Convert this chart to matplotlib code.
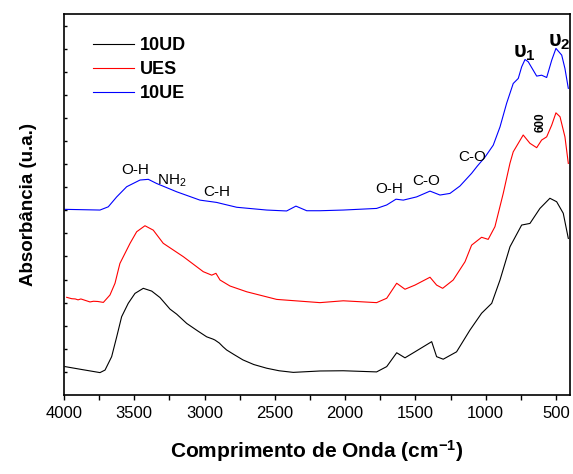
import matplotlib
matplotlib.use("Agg")
import matplotlib.pyplot as plt
from matplotlib.ticker import MultipleLocator, NullFormatter

plt.rcParams['font.family'] = ['Liberation Sans', 'DejaVu Sans']
plt.rcParams['mathtext.fontset'] = 'custom'
plt.rcParams['mathtext.rm'] = 'Liberation Sans'
plt.rcParams['mathtext.bf'] = 'Liberation Sans:bold'

# ---- data (wavenumber cm^-1, absorbance a.u. with offsets) ----
wn_10ud = [3993, 3870, 3744, 3708, 3661, 3625, 3590, 3543, 3495, 3436, 3376, 3317, 3246,
           3198, 3127, 3050, 2985, 2940, 2926, 2895, 2869, 2843, 2790, 2727, 2650, 2558,
           2470, 2369, 2179, 2013, 1776, 1704, 1633, 1574, 1503, 1384, 1349, 1302,
           1207, 1112, 1029, 957, 898, 827, 744, 685, 614, 543, 495, 448, 412]
abs_10ud = [1.23, 1.10, 0.97, 1.08, 1.66, 2.52, 3.39, 3.97, 4.40, 4.62, 4.50, 4.22, 3.72,
            3.50, 3.10, 2.78, 2.52, 2.42, 2.38, 2.25, 2.09, 1.95, 1.75, 1.52, 1.32, 1.16,
            1.05, 0.98, 1.04, 1.05, 1.00, 1.23, 1.83, 1.61, 1.87, 2.31, 1.66, 1.55,
            1.87, 2.81, 3.54, 3.97, 4.98, 6.42, 7.36, 7.43, 8.08, 8.52, 8.37, 7.87, 6.78]

wn_ues = [3981, 3945, 3920, 3900, 3880, 3850, 3815, 3790, 3760, 3720, 3673, 3637, 3614,
          3602, 3530, 3483, 3424, 3365, 3294, 3151, 3009,
          2949, 2919, 2890, 2819, 2700, 2487, 2179, 2013, 1776, 1704, 1633, 1574, 1503,
          1396, 1349, 1306, 1231, 1147, 1100, 1029, 982, 934, 875, 827, 804, 768, 733,
          685, 637, 602, 566, 530, 500, 471, 436, 412]
abs_ues = [4.23, 4.17, 4.16, 4.12, 4.16, 4.10, 4.03, 4.06, 4.05, 4.01, 4.33, 4.84, 5.41,
           5.70, 6.57, 7.07, 7.33, 7.14, 6.57, 5.99, 5.34,
           5.19, 5.27, 4.98, 4.72, 4.47, 4.14, 4.00, 4.08, 4.00, 4.19, 4.84, 4.58, 4.76,
           5.10, 4.76, 4.62, 4.98, 5.77, 6.49, 6.83, 6.74, 7.29, 8.73, 10.04, 10.53, 10.90,
           11.26, 10.90, 10.71, 11.04, 11.18, 11.69, 12.22, 12.05, 11.18, 10.03]

wn_10ue = [3993, 3744, 3685, 3625, 3554, 3459, 3400, 3341, 3198, 3033, 2914, 2867, 2771,
           2558, 2416, 2350, 2273, 2179, 2013, 1776, 1704, 1638, 1586, 1491, 1396, 1325,
           1254, 1183, 1100, 1060, 1005, 946, 898, 851, 804, 768, 744, 720, 697, 637, 602,
           566, 530, 500, 459, 436, 412]
abs_10ue = [8.04, 8.01, 8.15, 8.58, 9.02, 9.31, 9.34, 9.16, 8.80, 8.44, 8.34, 8.27, 8.13,
            8.01, 7.97, 8.18, 7.98, 7.98, 8.01, 8.08, 8.23, 8.48, 8.44, 8.58, 8.83, 8.66,
            8.73, 9.05, 9.60, 9.91, 10.30, 10.82, 11.61, 12.63, 13.49, 13.71, 14.21, 14.53,
            14.43, 13.81, 13.85, 13.75, 14.50, 15.01, 14.72, 14.14, 13.28]

labels = ["10UD", "UES", "10UE"]
colors = ["black", "red", "blue"]
xticks = [4000, 3500, 3000, 2500, 2000, 1500, 1000, 500]

fig = plt.figure(figsize=(5.73, 4.74), dpi=100)
ax = fig.add_axes([64/573, 1-395/474, (570-64)/573, (395-14)/474])

for wn, a, lab, c in zip([wn_10ud, wn_ues, wn_10ue], [abs_10ud, abs_ues, abs_10ue], labels, colors):
    ax.plot(wn, a, color=c, lw=0.8, label=lab)

ax.set_xlim(4000, 400)
ax.set_ylim(0, 16.5)
ax.set_xticks(xticks)
ax.set_xticklabels([str(t) for t in xticks], fontsize=12)
ax.xaxis.set_minor_locator(MultipleLocator(250))
ax.set_yticks(range(1, 17))
ax.yaxis.set_major_formatter(NullFormatter())
ax.tick_params(axis='x', which='both', direction='out', length=3.5, width=1, pad=4.5)
ax.tick_params(axis='y', which='both', direction='in', length=2, width=1, left=True, right=False)
for s in ax.spines.values():
    s.set_linewidth(1.2)

ax.set_xlabel(r"Comprimento de Onda (cm$\mathbf{^{-1}}$)", fontsize=15, fontweight='bold', labelpad=12)
ax.set_ylabel("Absorbância (u.a.)", fontsize=13.5, fontweight='bold', labelpad=16)

leg = ax.legend(loc='upper left', bbox_to_anchor=(0.057, 0.94), frameon=False,
                prop={'weight': 'bold', 'size': 13}, handlelength=2.3, handletextpad=0.3,
                labelspacing=0.4, borderpad=0, borderaxespad=0)

fs = 11
ax.text(3495, 9.74, "O-H", fontsize=fs, ha='center', va='center')
ax.text(3338, 9.3, r"NH$_2$", fontsize=fs, ha='left', va='center')
ax.text(2912, 8.79, "C-H", fontsize=fs, ha='center', va='center')
ax.text(1688, 8.92, "O-H", fontsize=fs, ha='center', va='center')
ax.text(1425, 9.26, "C-O", fontsize=fs, ha='center', va='center')
ax.text(1097, 10.30, "C-O", fontsize=fs, ha='center', va='center')
ax.text(725, 14.85, r"υ$\mathbf{_1}$", fontsize=15.5, fontweight='bold', ha='center', va='center')
ax.text(478, 15.30, r"υ$\mathbf{_2}$", fontsize=15.5, fontweight='bold', ha='center', va='center')
ax.text(607, 11.82, "600", fontsize=8.5, fontweight='bold', rotation=90, ha='center', va='center')

fig.savefig("out.png", dpi=100)
